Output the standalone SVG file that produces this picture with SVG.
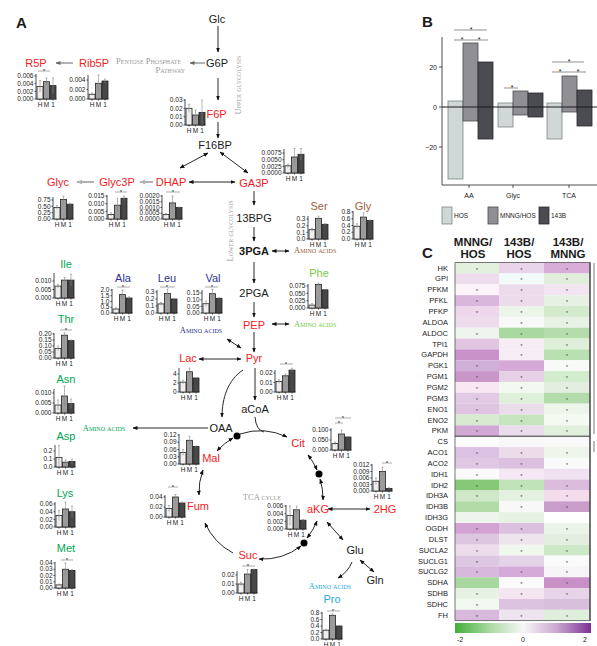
<svg xmlns="http://www.w3.org/2000/svg" width="597" height="646" viewBox="0 0 597 646">
<style>
text{font-family:"Liberation Sans",Arial,sans-serif;fill:#1a1a1a}
.pl{font-size:15px;font-weight:bold}
.m{font-size:11px;text-anchor:middle}
.b{font-weight:bold}
.red{fill:#ee1c25}
.grn{fill:#00a651}
.blu{fill:#2e3192}
.brn{fill:#a0603a}
.lg{fill:#7ac943}
.cy{fill:#27aae1}
.sc{font-family:"Liberation Serif","Times New Roman",serif;font-variant:small-caps;font-size:8.5px}
.gy{fill:#9a9a9a}
.tk{font-size:6.5px;text-anchor:end}
.hl{font-size:6.5px;text-anchor:middle}
.st{font-size:6px;text-anchor:middle}
.ax{stroke:#222;stroke-width:0.8;fill:none}
.bh{fill:#eeeeee;stroke:#222;stroke-width:0.8}
.bm{fill:#9b9b9b;stroke:#222;stroke-width:0.8}
.b1{fill:#474747;stroke:#222;stroke-width:0.8}
.eb{stroke:#888;stroke-width:0.6;fill:none}
.sg{stroke:#888;stroke-width:0.7}
.c{stroke:#111;stroke-width:0.9;fill:none}
.cg{stroke:#b0b0b0;stroke-width:2;fill:none}
.cd{stroke:#666;stroke-width:1;fill:none}
.rl{font-size:7.5px;text-anchor:end}
.hs{font-size:6px;text-anchor:middle;fill:#555}
.bt{font-size:7px}
.hd{font-size:11.5px;font-weight:bold;text-anchor:middle}
.bb{stroke-width:0.8}
</style>
<defs>
<marker id="a" viewBox="0 0 10 10" refX="9" refY="5" markerWidth="5" markerHeight="5" markerUnits="userSpaceOnUse" orient="auto-start-reverse"><path d="M0,1L10,5L0,9z" fill="#111"/></marker>
<marker id="ag" viewBox="0 0 10 10" refX="9" refY="5" markerWidth="6" markerHeight="6" markerUnits="userSpaceOnUse" orient="auto"><path d="M0,1L10,5L0,9z" fill="#b0b0b0"/></marker>
<marker id="ad" viewBox="0 0 10 10" refX="9" refY="5" markerWidth="5" markerHeight="5" markerUnits="userSpaceOnUse" orient="auto"><path d="M0,1L10,5L0,9z" fill="#666"/></marker>
<g id="hm"><path class="ax" d="M4,0V1.5M10.5,0V1.5M17,0V1.5"/><text class="hl" x="4" y="7.8">H</text><text class="hl" x="10.5" y="7.8">M</text><text class="hl" x="17" y="7.8">1</text></g>
<linearGradient id="cbar" x1="0" x2="1" y1="0" y2="0"><stop offset="0" stop-color="#3fae3a"/><stop offset="0.25" stop-color="#a8d9a0"/><stop offset="0.5" stop-color="#f7f7f7"/><stop offset="0.75" stop-color="#caa6d0"/><stop offset="1" stop-color="#7b3294"/></linearGradient>
</defs>
<rect width="597" height="646" fill="#fff"/>

<text class="pl" x="16" y="28">A</text>

<g id="connectors">
<path class="c" d="M218,26V52" marker-end="url(#a)"/>
<path class="c" d="M218,78V100" marker-end="url(#a)"/>
<path class="cd" d="M205,63H190" marker-end="url(#ad)"/>
<path class="cd" d="M73,63H56" marker-end="url(#ad)"/>
<path class="c" d="M218,122V138" marker-end="url(#a)"/>
<path class="c" d="M208,153L180,168" marker-start="url(#a)" marker-end="url(#a)"/>
<path class="c" d="M220,152L248,173" marker-start="url(#a)" marker-end="url(#a)"/>
<path class="c" d="M189,182H235" marker-start="url(#a)" marker-end="url(#a)"/>
<path class="cg" d="M153,182H140" marker-end="url(#ag)"/>
<path class="cg" d="M94,182H77" marker-end="url(#ag)"/>
<path class="c" d="M254,191V205" marker-end="url(#a)"/>
<path class="c" d="M254,227V241" marker-end="url(#a)"/>
<path class="c" d="M272,251H289" marker-start="url(#a)" marker-end="url(#a)"/>
<path class="c" d="M254,262V283" marker-end="url(#a)"/>
<path class="c" d="M254,302V317" marker-end="url(#a)"/>
<path class="c" d="M272,324H289" marker-start="url(#a)" marker-end="url(#a)"/>
<path class="c" d="M254,332V352" marker-end="url(#a)"/>
<path class="c" d="M227,339L241,348" marker-start="url(#a)" marker-end="url(#a)"/>
<path class="c" d="M199,359H241" marker-start="url(#a)" marker-end="url(#a)"/>
<path class="c" d="M255,368V400" marker-end="url(#a)"/>
<path class="c" d="M243,370C228,380 222,398 222,417" marker-end="url(#a)"/>
<path class="c" d="M208,428H133" marker-end="url(#a)"/>
<path class="c" d="M255,417Q256,430 264,432"/>
<path class="c" d="M240,434A63,63 0 0 1 287,437" marker-end="url(#a)"/>
<path class="c" d="M308,455A63,63 0 0 1 317,470" marker-start="url(#a)" marker-end="url(#a)"/>
<path class="c" d="M320,479A63,63 0 0 1 323,500" marker-start="url(#a)" marker-end="url(#a)"/>
<path class="c" d="M317,521A63,63 0 0 1 307,538" marker-start="url(#a)" marker-end="url(#a)"/>
<path class="c" d="M301,546A63,63 0 0 1 259,559" marker-start="url(#a)" marker-end="url(#a)"/>
<path class="c" d="M233,553A63,63 0 0 1 205,523" marker-end="url(#a)"/>
<path class="c" d="M199,495A63,63 0 0 1 203,470" marker-start="url(#a)" marker-end="url(#a)"/>
<path class="c" d="M217,451A63,63 0 0 1 233,438" marker-start="url(#a)" marker-end="url(#a)"/>
<path class="c" d="M328,509H370" marker-start="url(#a)" marker-end="url(#a)"/>
<path class="c" d="M327,522L343,540" marker-start="url(#a)" marker-end="url(#a)"/>
<path class="c" d="M352,562Q348,572 338,578" marker-end="url(#a)"/>
<path class="c" d="M360,560L374,572" marker-start="url(#a)" marker-end="url(#a)"/>
<circle cx="237" cy="436" r="3.5" fill="#000"/>
<circle cx="319" cy="474" r="3.5" fill="#000"/>
<circle cx="304" cy="543" r="3.5" fill="#000"/>
</g>

<g id="pathway-labels">
<text class="sc gy" x="116" y="64">Pentose Phosphate</text>
<text class="sc gy" x="185" y="73" text-anchor="end">Pathway</text>
<text class="sc gy" transform="translate(241,85) rotate(-90)" text-anchor="middle">Upper glycolysis</text>
<text class="sc gy" transform="translate(233,231) rotate(-90)" text-anchor="middle">Lower glycolysis</text>
<text class="sc gy" x="262" y="500" text-anchor="middle">TCA cycle</text>
<text class="sc brn" x="294" y="253">Amino acids</text>
<text class="sc lg" x="294" y="327">Amino acids</text>
<text class="sc blu" x="201" y="333" text-anchor="middle">Amino acids</text>
<text class="sc grn" x="104" y="431" text-anchor="middle">Amino acids</text>
<text class="sc cy" x="330" y="589" text-anchor="middle">Amino acids</text>
</g>

<g id="Glc"><text class="m" x="217" y="23">Glc</text></g>
<g id="G6P"><text class="m" x="217" y="67">G6P</text></g>
<g id="F16BP"><text class="m" x="215" y="149">F16BP</text></g>
<g id="13BPG"><text class="m" x="254" y="222">13BPG</text></g>
<g id="3PGA"><text class="m b" x="254" y="255">3PGA</text></g>
<g id="2PGA"><text class="m" x="254" y="297">2PGA</text></g>
<g id="PEP"><text class="m red" x="254" y="329">PEP</text></g>
<g id="aCoA"><text class="m" x="255" y="413">aCoA</text></g>
<g id="OAA"><text class="m" x="221" y="432">OAA</text></g>
<g id="Glu"><text class="m" x="355" y="554">Glu</text></g>
<g id="Gln"><text class="m" x="375" y="584">Gln</text></g>

<g id="R5P"><text class="m red" x="36" y="67">R5P</text>
<g transform="translate(36,99)"><path class="ax" d="M0,-25V0H20.5M-1.5,0H0M-1.5,-7.7H0M-1.5,-15.3H0M-1.5,-23H0"/><rect class="bh" x="1" y="-12.6" width="6" height="12.6"/><rect class="bm" x="7.5" y="-17.3" width="6" height="17.3"/><rect class="b1" x="14" y="-13.4" width="6" height="13.4"/><path class="eb" d="M4,-18.4V-6.8M3,-18.4H5M10.5,-21V-13.6M9.5,-21H11.5M17,-21V-5.8M16,-21H18"/><text class="tk" x="-2.5" y="2.2">0.000</text><text class="tk" x="-2.5" y="-5.5">0.002</text><text class="tk" x="-2.5" y="-13.1">0.004</text><text class="tk" x="-2.5" y="-20.8">0.006</text><path class="sg" d="M2,-28H14"/><text class="st" x="8" y="-26">*</text><use href="#hm"/></g></g>

<g id="Rib5P"><text class="m red" x="94" y="67">Rib5P</text>
<g transform="translate(88,99)"><path class="ax" d="M0,-24V0H20.5M-1.5,0H0M-1.5,-9.5H0M-1.5,-19H0"/><rect class="bh" x="1" y="-4.75" width="6" height="4.75"/><rect class="bm" x="7.5" y="-15.7" width="6" height="15.7"/><rect class="b1" x="14" y="-18" width="6" height="18"/><path class="eb" d="M4,-6V-3.5M3,-6H5M10.5,-24V-7.4M9.5,-24H11.5M17,-20V-16M16,-20H18"/><text class="tk" x="-2.5" y="2.2">0.000</text><text class="tk" x="-2.5" y="-7.3">0.002</text><text class="tk" x="-2.5" y="-16.8">0.004</text><use href="#hm"/></g></g>

<g id="F6P"><text class="m red" x="216.5" y="118">F6P</text>
<g transform="translate(185,125)"><path class="ax" d="M0,-26V0H20.5M-1.5,0H0M-1.5,-8.3H0M-1.5,-16.7H0M-1.5,-25H0"/><rect class="bh" x="1" y="-16.7" width="6" height="16.7"/><rect class="bm" x="7.5" y="-10" width="6" height="10"/><rect class="b1" x="14" y="-12.5" width="6" height="12.5"/><path class="eb" d="M4,-20.8V-12.6M3,-20.8H5M10.5,-15V-5M9.5,-15H11.5M17,-25V0M16,-25H18"/><text class="tk" x="-2.5" y="2.2">0.00</text><text class="tk" x="-2.5" y="-6.1">0.01</text><text class="tk" x="-2.5" y="-14.5">0.02</text><text class="tk" x="-2.5" y="-22.8">0.03</text><use href="#hm"/></g></g>

<g id="Glyc"><text class="m red" x="58" y="186">Glyc</text>
<g transform="translate(53,219)"><path class="ax" d="M0,-22V0H20.5M-1.5,0H0M-1.5,-6.3H0M-1.5,-12.7H0M-1.5,-19H0"/><rect class="bh" x="1" y="-11.5" width="6" height="11.5"/><rect class="bm" x="7.5" y="-19.6" width="6" height="19.6"/><rect class="b1" x="14" y="-14.8" width="6" height="14.8"/><path class="eb" d="M4,-13.3V-9.7M3,-13.3H5M10.5,-23V-16.2M9.5,-23H11.5M17,-15.8V-13.8M16,-15.8H18"/><text class="tk" x="-2.5" y="2.2">0.00</text><text class="tk" x="-2.5" y="-4.1">0.25</text><text class="tk" x="-2.5" y="-10.5">0.50</text><text class="tk" x="-2.5" y="-16.8">0.75</text><use href="#hm"/></g></g>

<g id="Glyc3P"><text class="m red" x="117" y="186">Glyc3P</text>
<g transform="translate(107,219)"><path class="ax" d="M0,-24V0H20.5M-1.5,0H0M-1.5,-7.7H0M-1.5,-15.3H0M-1.5,-23H0"/><rect class="bh" x="1" y="-4.6" width="6" height="4.6"/><rect class="bm" x="7.5" y="-13.8" width="6" height="13.8"/><rect class="b1" x="14" y="-20.7" width="6" height="20.7"/><path class="eb" d="M4,-6.1V-3.1M3,-6.1H5M10.5,-20.7V-6.9M9.5,-20.7H11.5M17,-23V-18.4M16,-23H18"/><text class="tk" x="-2.5" y="2.2">0.000</text><text class="tk" x="-2.5" y="-5.5">0.005</text><text class="tk" x="-2.5" y="-13.1">0.010</text><text class="tk" x="-2.5" y="-20.8">0.015</text><path class="sg" d="M8,-27H20"/><text class="st" x="14" y="-25">*</text><use href="#hm"/></g></g>

<g id="DHAP"><text class="m red" x="171" y="186">DHAP</text>
<g transform="translate(162,219)"><path class="ax" d="M0,-24V0H20.5M-1.5,0H0M-1.5,-5.75H0M-1.5,-11.5H0M-1.5,-17.25H0M-1.5,-23H0"/><rect class="bh" x="1" y="-4.6" width="6" height="4.6"/><rect class="bm" x="7.5" y="-16.1" width="6" height="16.1"/><rect class="b1" x="14" y="-11.5" width="6" height="11.5"/><path class="eb" d="M4,-5.7V-3.5M3,-5.7H5M10.5,-23V-9.2M9.5,-23H11.5M17,-12V-11M16,-12H18"/><text class="tk" x="-2.5" y="2.2">0.0000</text><text class="tk" x="-2.5" y="-3.55">0.0005</text><text class="tk" x="-2.5" y="-9.3">0.0010</text><text class="tk" x="-2.5" y="-15.05">0.0015</text><text class="tk" x="-2.5" y="-20.8">0.0020</text><path class="sg" d="M4,-27H18"/><text class="st" x="11" y="-25">*</text><use href="#hm"/></g></g>

<g id="GA3P"><text class="m red" x="254" y="187">GA3P</text>
<g transform="translate(284,173)"><path class="ax" d="M0,-24V0H20.5M-1.5,0H0M-1.5,-6.7H0M-1.5,-13.3H0M-1.5,-20H0"/><rect class="bh" x="1" y="-7.2" width="6" height="7.2"/><rect class="bm" x="7.5" y="-16" width="6" height="16"/><rect class="b1" x="14" y="-18.7" width="6" height="18.7"/><path class="eb" d="M4,-8.8V-5.6M3,-8.8H5M10.5,-24.5V-7.5M9.5,-24.5H11.5M17,-24.5V-12.9M16,-24.5H18"/><text class="tk" x="-2.5" y="2.2">0.0000</text><text class="tk" x="-2.5" y="-4.5">0.0025</text><text class="tk" x="-2.5" y="-11.1">0.0050</text><text class="tk" x="-2.5" y="-17.8">0.0075</text><use href="#hm"/></g></g>

<g id="Ser"><text class="m brn" x="319" y="210">Ser</text>
<g transform="translate(308,239)"><path class="ax" d="M0,-23V0H20.5M-1.5,0H0M-1.5,-6.7H0M-1.5,-13.3H0M-1.5,-20H0"/><rect class="bh" x="1" y="-9.3" width="6" height="9.3"/><rect class="bm" x="7.5" y="-20.7" width="6" height="20.7"/><rect class="b1" x="14" y="-14.7" width="6" height="14.7"/><path class="eb" d="M4,-10.7V-7.9M3,-10.7H5M10.5,-22.7V-18.7M9.5,-22.7H11.5M17,-15.3V-14.1M16,-15.3H18"/><text class="tk" x="-2.5" y="2.2">0.0</text><text class="tk" x="-2.5" y="-4.5">0.1</text><text class="tk" x="-2.5" y="-11.1">0.2</text><text class="tk" x="-2.5" y="-17.8">0.3</text><use href="#hm"/></g></g>

<g id="Gly"><text class="m brn" x="363" y="210">Gly</text>
<g transform="translate(353,239)"><path class="ax" d="M0,-28V0H20.5M-1.5,0H0M-1.5,-6.75H0M-1.5,-13.5H0M-1.5,-20.25H0M-1.5,-27H0"/><rect class="bh" x="1" y="-12.8" width="6" height="12.8"/><rect class="bm" x="7.5" y="-21.9" width="6" height="21.9"/><rect class="b1" x="14" y="-18.6" width="6" height="18.6"/><path class="eb" d="M4,-15.2V-10.4M3,-15.2H5M10.5,-26.3V-17.5M9.5,-26.3H11.5M17,-18.9V-18.3M16,-18.9H18"/><text class="tk" x="-2.5" y="2.2">0.0</text><text class="tk" x="-2.5" y="-4.55">0.2</text><text class="tk" x="-2.5" y="-11.3">0.4</text><text class="tk" x="-2.5" y="-18.05">0.6</text><text class="tk" x="-2.5" y="-24.8">0.8</text><use href="#hm"/></g></g>

<g id="Phe"><text class="m lg" x="319" y="277">Phe</text>
<g transform="translate(308,308)"><path class="ax" d="M0,-24V0H20.5M-1.5,0H0M-1.5,-7.3H0M-1.5,-14.7H0M-1.5,-22H0"/><rect class="bh" x="1" y="-2.9" width="6" height="2.9"/><rect class="bm" x="7.5" y="-23.5" width="6" height="23.5"/><rect class="b1" x="14" y="-18.2" width="6" height="18.2"/><path class="eb" d="M4,-4.4V-1.4M3,-4.4H5M10.5,-25V-22M9.5,-25H11.5M17,-18.5V-17.9M16,-18.5H18"/><text class="tk" x="-2.5" y="2.2">0.000</text><text class="tk" x="-2.5" y="-5.1">0.025</text><text class="tk" x="-2.5" y="-12.5">0.050</text><text class="tk" x="-2.5" y="-19.8">0.075</text><use href="#hm"/></g></g>

<g id="Val"><text class="m blu" x="213" y="282">Val</text>
<g transform="translate(202,313)"><path class="ax" d="M0,-23V0H20.5M-1.5,0H0M-1.5,-6.7H0M-1.5,-13.3H0M-1.5,-20H0"/><rect class="bh" x="1" y="-9.3" width="6" height="9.3"/><rect class="bm" x="7.5" y="-19.3" width="6" height="19.3"/><rect class="b1" x="14" y="-14.7" width="6" height="14.7"/><path class="eb" d="M4,-12V-6.6M3,-12H5M10.5,-24V-14.6M9.5,-24H11.5M17,-15.3V-14.1M16,-15.3H18"/><text class="tk" x="-2.5" y="2.2">0.00</text><text class="tk" x="-2.5" y="-4.5">0.05</text><text class="tk" x="-2.5" y="-11.1">0.10</text><text class="tk" x="-2.5" y="-17.8">0.15</text><path class="sg" d="M3,-26H16"/><text class="st" x="10" y="-24">*</text><use href="#hm"/></g></g>

<g id="Leu"><text class="m blu" x="167" y="282">Leu</text>
<g transform="translate(157,313)"><path class="ax" d="M0,-23V0H20.5M-1.5,0H0M-1.5,-7H0M-1.5,-14H0M-1.5,-21H0"/><rect class="bh" x="1" y="-9.1" width="6" height="9.1"/><rect class="bm" x="7.5" y="-19.6" width="6" height="19.6"/><rect class="b1" x="14" y="-14" width="6" height="14"/><path class="eb" d="M4,-10.5V-7.7M3,-10.5H5M10.5,-23.8V-15.4M9.5,-23.8H11.5M17,-14.7V-13.3M16,-14.7H18"/><text class="tk" x="-2.5" y="2.2">0.0</text><text class="tk" x="-2.5" y="-4.8">0.1</text><text class="tk" x="-2.5" y="-11.8">0.2</text><text class="tk" x="-2.5" y="-18.8">0.3</text><path class="sg" d="M3,-26H18"/><text class="st" x="10" y="-24">*</text><use href="#hm"/></g></g>

<g id="Ala"><text class="m blu" x="123" y="282">Ala</text>
<g transform="translate(112,313)"><path class="ax" d="M0,-24V0H20.5M-1.5,0H0M-1.5,-5.75H0M-1.5,-11.5H0M-1.5,-17.25H0M-1.5,-23H0"/><rect class="bh" x="1" y="-4" width="6" height="4"/><rect class="bm" x="7.5" y="-18.4" width="6" height="18.4"/><rect class="b1" x="14" y="-15" width="6" height="15"/><path class="eb" d="M4,-5.2V-2.8M3,-5.2H5M10.5,-23V-13.8M9.5,-23H11.5M17,-16.1V-13.9M16,-16.1H18"/><text class="tk" x="-2.5" y="2.2">0.0</text><text class="tk" x="-2.5" y="-3.55">0.5</text><text class="tk" x="-2.5" y="-9.3">1.0</text><text class="tk" x="-2.5" y="-15.05">1.5</text><text class="tk" x="-2.5" y="-20.8">2.0</text><path class="sg" d="M5,-26H18"/><text class="st" x="11" y="-24">*</text><use href="#hm"/></g></g>

<g id="Ile"><text class="m grn" x="66" y="268">Ile</text>
<g transform="translate(54,298)"><path class="ax" d="M0,-25V0H20.5M-1.5,0H0M-1.5,-8.5H0M-1.5,-17H0"/><rect class="bh" x="1" y="-11.9" width="6" height="11.9"/><rect class="bm" x="7.5" y="-17.9" width="6" height="17.9"/><rect class="b1" x="14" y="-17.9" width="6" height="17.9"/><path class="eb" d="M4,-13.6V-10.2M3,-13.6H5M10.5,-20.4V-15.4M9.5,-20.4H11.5M17,-23.8V-12M16,-23.8H18"/><text class="tk" x="-2.5" y="2.2">0.000</text><text class="tk" x="-2.5" y="-6.3">0.005</text><text class="tk" x="-2.5" y="-14.8">0.010</text><use href="#hm"/></g></g>

<g id="Thr"><text class="m grn" x="66" y="323">Thr</text>
<g transform="translate(54,358)"><path class="ax" d="M0,-25V0H20.5M-1.5,0H0M-1.5,-6H0M-1.5,-12H0M-1.5,-18H0M-1.5,-24H0"/><rect class="bh" x="1" y="-9.6" width="6" height="9.6"/><rect class="bm" x="7.5" y="-22.8" width="6" height="22.8"/><rect class="b1" x="14" y="-17.4" width="6" height="17.4"/><path class="eb" d="M4,-12V-7.2M3,-12H5M10.5,-25.2V-20.4M9.5,-25.2H11.5M17,-18V-16.8M16,-18H18"/><text class="tk" x="-2.5" y="2.2">0.00</text><text class="tk" x="-2.5" y="-3.8">0.05</text><text class="tk" x="-2.5" y="-9.8">0.10</text><text class="tk" x="-2.5" y="-15.8">0.15</text><text class="tk" x="-2.5" y="-21.8">0.20</text><path class="sg" d="M6,-28H18"/><text class="st" x="12" y="-26">*</text><use href="#hm"/></g></g>

<g id="Asn"><text class="m grn" x="66" y="383">Asn</text>
<g transform="translate(54,413)"><path class="ax" d="M0,-24V0H20.5M-1.5,0H0M-1.5,-10H0M-1.5,-20H0"/><rect class="bh" x="1" y="-8" width="6" height="8"/><rect class="bm" x="7.5" y="-17" width="6" height="17"/><rect class="b1" x="14" y="-9.4" width="6" height="9.4"/><path class="eb" d="M4,-13V-3M3,-13H5M10.5,-27V-7M9.5,-27H11.5M17,-14V-4.8M16,-14H18"/><text class="tk" x="-2.5" y="2.2">0.000</text><text class="tk" x="-2.5" y="-7.8">0.005</text><text class="tk" x="-2.5" y="-17.8">0.010</text><use href="#hm"/></g></g>

<g id="Asp"><text class="m grn" x="66" y="440">Asp</text>
<g transform="translate(55,467)"><path class="ax" d="M0,-22V0H20.5M-1.5,0H0M-1.5,-8H0M-1.5,-16H0"/><rect class="bh" x="1" y="-9.6" width="6" height="9.6"/><rect class="bm" x="7.5" y="-4.8" width="6" height="4.8"/><rect class="b1" x="14" y="-5.6" width="6" height="5.6"/><path class="eb" d="M4,-21.6V0M3,-21.6H5M10.5,-7.2V-2.4M9.5,-7.2H11.5M17,-8V-3.2M16,-8H18"/><text class="tk" x="-2.5" y="2.2">0.0</text><text class="tk" x="-2.5" y="-5.8">0.1</text><text class="tk" x="-2.5" y="-13.8">0.2</text><use href="#hm"/></g></g>

<g id="Lys"><text class="m grn" x="65" y="497">Lys</text>
<g transform="translate(55,527)"><path class="ax" d="M0,-25V0H20.5M-1.5,0H0M-1.5,-7.7H0M-1.5,-15.3H0M-1.5,-23H0"/><rect class="bh" x="1" y="-11.5" width="6" height="11.5"/><rect class="bm" x="7.5" y="-18" width="6" height="18"/><rect class="b1" x="14" y="-15.3" width="6" height="15.3"/><path class="eb" d="M4,-16.5V-6.5M3,-16.5H5M10.5,-25V-11M9.5,-25H11.5M17,-21V-9.6M16,-21H18"/><text class="tk" x="-2.5" y="2.2">0.00</text><text class="tk" x="-2.5" y="-5.5">0.02</text><text class="tk" x="-2.5" y="-13.1">0.04</text><text class="tk" x="-2.5" y="-20.8">0.06</text><use href="#hm"/></g></g>

<g id="Met"><text class="m grn" x="66" y="552">Met</text>
<g transform="translate(55,588)"><path class="ax" d="M0,-26V0H20.5M-1.5,0H0M-1.5,-6.25H0M-1.5,-12.5H0M-1.5,-18.75H0M-1.5,-25H0"/><rect class="bh" x="1" y="-3.1" width="6" height="3.1"/><rect class="bm" x="7.5" y="-18.75" width="6" height="18.75"/><rect class="b1" x="14" y="-17.5" width="6" height="17.5"/><path class="eb" d="M4,-3.8V-2.4M3,-3.8H5M10.5,-25V-12.5M9.5,-25H11.5M17,-18.5V-16.5M16,-18.5H18"/><text class="tk" x="-2.5" y="2.2">0.00</text><text class="tk" x="-2.5" y="-4.05">0.01</text><text class="tk" x="-2.5" y="-10.3">0.02</text><text class="tk" x="-2.5" y="-16.55">0.03</text><text class="tk" x="-2.5" y="-22.8">0.04</text><path class="sg" d="M6,-28H18"/><text class="st" x="12" y="-26">*</text><use href="#hm"/></g></g>

<g id="Lac"><text class="m red" x="188" y="362">Lac</text>
<g transform="translate(179,392)"><path class="ax" d="M0,-24V0H20.5M-1.5,0H0M-1.5,-9H0M-1.5,-18H0"/><rect class="bh" x="1" y="-9.9" width="6" height="9.9"/><rect class="bm" x="7.5" y="-20.25" width="6" height="20.25"/><rect class="b1" x="14" y="-14" width="6" height="14"/><path class="eb" d="M4,-11.7V-8.1M3,-11.7H5M10.5,-23.9V-16.6M9.5,-23.9H11.5M17,-14.2V-13.8M16,-14.2H18"/><text class="tk" x="-2.5" y="2.2">0</text><text class="tk" x="-2.5" y="-6.8">2</text><text class="tk" x="-2.5" y="-15.8">4</text><use href="#hm"/></g></g>

<g id="Pyr"><text class="m red" x="254" y="362">Pyr</text>
<g transform="translate(275,392)"><path class="ax" d="M0,-22V0H20.5M-1.5,0H0M-1.5,-9.5H0M-1.5,-19H0"/><rect class="bh" x="1" y="-10.5" width="6" height="10.5"/><rect class="bm" x="7.5" y="-16.2" width="6" height="16.2"/><rect class="b1" x="14" y="-21.9" width="6" height="21.9"/><path class="eb" d="M4,-12.4V-8.6M3,-12.4H5M10.5,-18V-14.4M9.5,-18H11.5M17,-23.75V-20M16,-23.75H18"/><text class="tk" x="-2.5" y="2.2">0.00</text><text class="tk" x="-2.5" y="-7.3">0.01</text><text class="tk" x="-2.5" y="-16.8">0.02</text><path class="sg" d="M5,-28H18"/><text class="st" x="11" y="-26">*</text><use href="#hm"/></g></g>

<g id="Cit"><text class="m red" x="298" y="447">Cit</text>
<g transform="translate(331,450)"><path class="ax" d="M0,-22V0H20.5M-1.5,0H0M-1.5,-10H0M-1.5,-20H0"/><rect class="bh" x="1" y="-6.4" width="6" height="6.4"/><rect class="bm" x="7.5" y="-16" width="6" height="16"/><rect class="b1" x="14" y="-13" width="6" height="13"/><path class="eb" d="M4,-8V-4.8M3,-8H5M10.5,-20V-12M9.5,-20H11.5M17,-13.2V-12.8M16,-13.2H18"/><text class="tk" x="-2.5" y="2.2">0.000</text><text class="tk" x="-2.5" y="-7.8">0.050</text><text class="tk" x="-2.5" y="-17.8">0.100</text><path class="sg" d="M4,-27H12M4,-32H20"/><text class="st" x="8" y="-25">*</text><text class="st" x="12" y="-30">*</text><use href="#hm"/></g></g>

<g id="2HG"><text class="m red" x="385" y="513">2HG</text>
<g transform="translate(372,491)"><path class="ax" d="M0,-27V0H20.5M-1.5,0H0M-1.5,-6.5H0M-1.5,-13H0M-1.5,-19.5H0M-1.5,-26H0"/><rect class="bh" x="1" y="-9.75" width="6" height="9.75"/><rect class="bm" x="7.5" y="-19.5" width="6" height="19.5"/><rect class="b1" x="14" y="-2.6" width="6" height="2.6"/><path class="eb" d="M4,-13V-6.5M3,-13H5M10.5,-23.8V-15.2M9.5,-23.8H11.5M17,-3.3V-1.9M16,-3.3H18"/><text class="tk" x="-2.5" y="2.2">0.000</text><text class="tk" x="-2.5" y="-4.3">0.003</text><text class="tk" x="-2.5" y="-10.8">0.006</text><text class="tk" x="-2.5" y="-17.3">0.009</text><text class="tk" x="-2.5" y="-23.8">0.012</text><path class="sg" d="M10,-28H20"/><text class="st" x="15" y="-26">*</text><use href="#hm"/></g></g>

<g id="aKG"><text class="m red" x="318" y="513">aKG</text>
<g transform="translate(286,529)"><path class="ax" d="M0,-24V0H20.5M-1.5,0H0M-1.5,-7.7H0M-1.5,-15.3H0M-1.5,-23H0"/><rect class="bh" x="1" y="-13.4" width="6" height="13.4"/><rect class="bm" x="7.5" y="-19.2" width="6" height="19.2"/><rect class="b1" x="14" y="-8.8" width="6" height="8.8"/><path class="eb" d="M4,-23V-3.8M3,-23H5M10.5,-23V-15.4M9.5,-23H11.5M17,-9.6V-8M16,-9.6H18"/><text class="tk" x="-2.5" y="2.2">0.000</text><text class="tk" x="-2.5" y="-5.5">0.002</text><text class="tk" x="-2.5" y="-13.1">0.004</text><text class="tk" x="-2.5" y="-20.8">0.006</text><use href="#hm"/></g></g>

<g id="Suc"><text class="m red" x="248" y="559">Suc</text>
<g transform="translate(237,593)"><path class="ax" d="M0,-22V0H20.5M-1.5,0H0M-1.5,-9H0M-1.5,-18H0"/><rect class="bh" x="1" y="-9" width="6" height="9"/><rect class="bm" x="7.5" y="-18.9" width="6" height="18.9"/><rect class="b1" x="14" y="-23.4" width="6" height="23.4"/><path class="eb" d="M4,-10.8V-7.2M3,-10.8H5M10.5,-23.4V-14.4M9.5,-23.4H11.5M17,-23.8V-23M16,-23.8H18"/><text class="tk" x="-2.5" y="2.2">0.00</text><text class="tk" x="-2.5" y="-6.8">0.01</text><text class="tk" x="-2.5" y="-15.8">0.02</text><path class="sg" d="M5,-27H18"/><text class="st" x="11" y="-25">*</text><use href="#hm"/></g></g>

<g id="Fum"><text class="m red" x="198" y="510">Fum</text>
<g transform="translate(165,517)"><path class="ax" d="M0,-22V0H20.5M-1.5,0H0M-1.5,-10H0M-1.5,-20H0"/><rect class="bh" x="1" y="-8.5" width="6" height="8.5"/><rect class="bm" x="7.5" y="-20" width="6" height="20"/><rect class="b1" x="14" y="-14" width="6" height="14"/><path class="eb" d="M4,-11.5V-5.5M3,-11.5H5M10.5,-22.5V-17.5M9.5,-22.5H11.5M17,-15V-13M16,-15H18"/><text class="tk" x="-2.5" y="2.2">0.00</text><text class="tk" x="-2.5" y="-7.8">0.02</text><text class="tk" x="-2.5" y="-17.8">0.04</text><path class="sg" d="M3,-30H13"/><text class="st" x="8" y="-28">*</text><use href="#hm"/></g></g>

<g id="Mal"><text class="m red" x="211" y="462">Mal</text>
<g transform="translate(179,464)"><path class="ax" d="M0,-30V0H20.5M-1.5,0H0M-1.5,-7.25H0M-1.5,-14.5H0M-1.5,-21.75H0M-1.5,-29H0"/><rect class="bh" x="1" y="-11.6" width="6" height="11.6"/><rect class="bm" x="7.5" y="-23.7" width="6" height="23.7"/><rect class="b1" x="14" y="-17.6" width="6" height="17.6"/><path class="eb" d="M4,-14.5V-8.7M3,-14.5H5M10.5,-27.8V-19.6M9.5,-27.8H11.5M17,-17.9V-17.3M16,-17.9H18"/><text class="tk" x="-2.5" y="2.2">0.00</text><text class="tk" x="-2.5" y="-5.05">0.03</text><text class="tk" x="-2.5" y="-12.3">0.06</text><text class="tk" x="-2.5" y="-19.55">0.09</text><text class="tk" x="-2.5" y="-26.8">0.12</text><use href="#hm"/></g></g>

<g id="Pro"><text class="m cy" x="332" y="603">Pro</text>
<g transform="translate(322,639)"><path class="ax" d="M0,-27V0H20.5M-1.5,0H0M-1.5,-6.5H0M-1.5,-13H0M-1.5,-19.5H0M-1.5,-26H0"/><rect class="bh" x="1" y="-8.8" width="6" height="8.8"/><rect class="bm" x="7.5" y="-23.7" width="6" height="23.7"/><rect class="b1" x="14" y="-13" width="6" height="13"/><path class="eb" d="M4,-9.8V-7.8M3,-9.8H5M10.5,-25.3V-22.1M9.5,-25.3H11.5M17,-13.3V-12.7M16,-13.3H18"/><text class="tk" x="-2.5" y="2.2">0.0</text><text class="tk" x="-2.5" y="-4.3">0.2</text><text class="tk" x="-2.5" y="-10.8">0.4</text><text class="tk" x="-2.5" y="-17.3">0.6</text><text class="tk" x="-2.5" y="-23.8">0.8</text><path class="sg" d="M5,-28H18"/><text class="st" x="11" y="-26">*</text><use href="#hm"/></g></g>

<g id="panelB">
<text class="pl" x="422" y="27">B</text>
<rect class="bb" x="448" y="101" width="15" height="78" fill="#cfd8d6" stroke="#7d8584"/>
<rect class="bb" x="463" y="43" width="15" height="78" fill="#8f8f94" stroke="#4a4a4f"/>
<rect class="bb" x="478" y="62" width="15" height="77" fill="#4b4b52" stroke="#2a2a2e"/>
<rect class="bb" x="498" y="103" width="15" height="24" fill="#cfd8d6" stroke="#7d8584"/>
<rect class="bb" x="513" y="91" width="15" height="24" fill="#8f8f94" stroke="#4a4a4f"/>
<rect class="bb" x="528" y="93" width="15" height="24" fill="#4b4b52" stroke="#2a2a2e"/>
<rect class="bb" x="547" y="103" width="15" height="36" fill="#cfd8d6" stroke="#7d8584"/>
<rect class="bb" x="562" y="76" width="15" height="36" fill="#8f8f94" stroke="#4a4a4f"/>
<rect class="bb" x="577" y="90" width="15" height="36" fill="#4b4b52" stroke="#2a2a2e"/>
<path d="M442,107H597" stroke="#1a1a1a" stroke-width="1"/>
<path d="M442,37V185H597M439,67H442M439,107H442M439,147H442M469,185V188M513,185V188M569,185V188" stroke="#222" stroke-width="0.8" fill="none"/>
<text class="bt" x="437" y="69.5" text-anchor="end">20</text>
<text class="bt" x="437" y="109.5" text-anchor="end">0</text>
<text class="bt" x="437" y="149.5" text-anchor="end">−20</text>
<text class="bt" x="469" y="198" text-anchor="middle">AA</text>
<text class="bt" x="513" y="198" text-anchor="middle">Glyc</text>
<text class="bt" x="569" y="198" text-anchor="middle">TCA</text>
<path d="M454,40H471M471,40H488M454,30H487M504,88H518M552,72H568M568,72H586M552,62H584" stroke="#777" stroke-width="0.8"/>
<text class="st" style="font-size:7px" x="462" y="42">*</text>
<text class="st" style="font-size:7px" x="479" y="42">*</text>
<text class="st" style="font-size:7px" x="471" y="32">*</text>
<text class="st" style="font-size:7px" x="512" y="90">*</text>
<text class="st" style="font-size:7px" x="560" y="74">*</text>
<text class="st" style="font-size:7px" x="578" y="74">*</text>
<text class="st" style="font-size:7px" x="569" y="64">*</text>
<rect x="442" y="207" width="10" height="17" fill="#cfd8d6" stroke="#7d8584" stroke-width="0.8"/>
<text class="bt" style="font-size:6.5px" x="454" y="218">HOS</text>
<rect x="488" y="207" width="10" height="17" fill="#8f8f94" stroke="#4a4a4f" stroke-width="0.8"/>
<text class="bt" style="font-size:6.5px" x="500" y="218">MNNG/HOS</text>
<rect x="539" y="207" width="10" height="17" fill="#4b4b52" stroke="#2a2a2e" stroke-width="0.8"/>
<text class="bt" style="font-size:6.5px" x="551" y="218">143B</text>
</g>

<g id="panelC">
<text class="pl" x="422" y="258">C</text>
<text class="hd" x="473" y="246">MNNG/</text><text class="hd" x="473" y="258">HOS</text>
<text class="hd" x="519" y="246">143B/</text><text class="hd" x="519" y="258">HOS</text>
<text class="hd" x="568" y="246">143B/</text><text class="hd" x="568" y="258">MNNG</text>

<g id="r-HK" transform="translate(0,262.6)"><rect x="455" width="44" height="10.9" fill="#e2f0dd"/><rect x="499" width="45" height="10.9" fill="#e9d5ea"/><rect x="544" width="46" height="10.9" fill="#d8aed8"/><text class="rl" x="448" y="8">HK</text><text class="hs" x="477" y="9">*</text><text class="hs" x="521.5" y="9">*</text><text class="hs" x="567" y="9">*</text></g>
<g id="r-GPI" transform="translate(0,273.45)"><rect x="455" width="44" height="10.9" fill="#ecdcec"/><rect x="499" width="45" height="10.9" fill="#f3fbfa"/><rect x="544" width="46" height="10.9" fill="#e0eedb"/><text class="rl" x="448" y="8">GPI</text><text class="hs" x="521.5" y="9">*</text><text class="hs" x="567" y="9">*</text></g>
<g id="r-PFKM" transform="translate(0,284.3)"><rect x="455" width="44" height="10.9" fill="#fbf3f9"/><rect x="499" width="45" height="10.9" fill="#ecdceb"/><rect x="544" width="46" height="10.9" fill="#f3e4f1"/><text class="rl" x="448" y="8">PFKM</text><text class="hs" x="477" y="9">*</text><text class="hs" x="521.5" y="9">*</text><text class="hs" x="567" y="9">*</text></g>
<g id="r-PFKL" transform="translate(0,295.15)"><rect x="455" width="44" height="10.9" fill="#d9b6dc"/><rect x="499" width="45" height="10.9" fill="#ecdceb"/><rect x="544" width="46" height="10.9" fill="#e7f1e3"/><text class="rl" x="448" y="8">PFKL</text><text class="hs" x="477" y="9">*</text><text class="hs" x="521.5" y="9">*</text><text class="hs" x="567" y="9">*</text></g>
<g id="r-PFKP" transform="translate(0,306)"><rect x="455" width="44" height="10.9" fill="#eed6ec"/><rect x="499" width="45" height="10.9" fill="#edf5ea"/><rect x="544" width="46" height="10.9" fill="#d3eacd"/><text class="rl" x="448" y="8">PFKP</text><text class="hs" x="477" y="9">*</text><text class="hs" x="521.5" y="9">*</text><text class="hs" x="567" y="9">*</text></g>
<g id="r-ALDOA" transform="translate(0,316.85)"><rect x="455" width="44" height="10.9" fill="#ecdcec"/><rect x="499" width="45" height="10.9" fill="#f8f8f8"/><rect x="544" width="46" height="10.9" fill="#e8f2e4"/><text class="rl" x="448" y="8">ALDOA</text><text class="hs" x="521.5" y="9">*</text><text class="hs" x="567" y="9">*</text></g>
<g id="r-ALDOC" transform="translate(0,327.7)"><rect x="455" width="44" height="10.9" fill="#eef5ee"/><rect x="499" width="45" height="10.9" fill="#a9d8a0"/><rect x="544" width="46" height="10.9" fill="#b5ddac"/><text class="rl" x="448" y="8">ALDOC</text><text class="hs" x="477" y="9">*</text><text class="hs" x="521.5" y="9">*</text><text class="hs" x="567" y="9">*</text></g>
<g id="r-TPI1" transform="translate(0,338.55)"><rect x="455" width="44" height="10.9" fill="#e0c6e0"/><rect x="499" width="45" height="10.9" fill="#f6ecf4"/><rect x="544" width="46" height="10.9" fill="#ddefd8"/><text class="rl" x="448" y="8">TPI1</text><text class="hs" x="521.5" y="9">*</text><text class="hs" x="567" y="9">*</text></g>
<g id="r-GAPDH" transform="translate(0,349.4)"><rect x="455" width="44" height="10.9" fill="#c992c9"/><rect x="499" width="45" height="10.9" fill="#f6ecf4"/><rect x="544" width="46" height="10.9" fill="#b8e0b0"/><text class="rl" x="448" y="8">GAPDH</text><text class="hs" x="521.5" y="9">*</text><text class="hs" x="567" y="9">*</text></g>
<g id="r-PGK1" transform="translate(0,360.25)"><rect x="455" width="44" height="10.9" fill="#d0b0d8"/><rect x="499" width="45" height="10.9" fill="#d6aad6"/><rect x="544" width="46" height="10.9" fill="#f8faf8"/><text class="rl" x="448" y="8">PGK1</text><text class="hs" x="477" y="9">*</text><text class="hs" x="567" y="9">*</text></g>
<g id="r-PGM1" transform="translate(0,371.1)"><rect x="455" width="44" height="10.9" fill="#c996c9"/><rect x="499" width="45" height="10.9" fill="#e6d0e6"/><rect x="544" width="46" height="10.9" fill="#d3ecce"/><text class="rl" x="448" y="8">PGM1</text><text class="hs" x="477" y="9">*</text><text class="hs" x="521.5" y="9">*</text><text class="hs" x="567" y="9">*</text></g>
<g id="r-PGM2" transform="translate(0,381.95)"><rect x="455" width="44" height="10.9" fill="#f8e8f4"/><rect x="499" width="45" height="10.9" fill="#f2f9f0"/><rect x="544" width="46" height="10.9" fill="#e4eee0"/><text class="rl" x="448" y="8">PGM2</text><text class="hs" x="477" y="9">*</text><text class="hs" x="521.5" y="9">*</text><text class="hs" x="567" y="9">*</text></g>
<g id="r-PGM3" transform="translate(0,392.8)"><rect x="455" width="44" height="10.9" fill="#e2cae4"/><rect x="499" width="45" height="10.9" fill="#dff0da"/><rect x="544" width="46" height="10.9" fill="#b4dcaa"/><text class="rl" x="448" y="8">PGM3</text><text class="hs" x="477" y="9">*</text><text class="hs" x="521.5" y="9">*</text><text class="hs" x="567" y="9">*</text></g>
<g id="r-ENO1" transform="translate(0,403.65)"><rect x="455" width="44" height="10.9" fill="#dfc4e2"/><rect x="499" width="45" height="10.9" fill="#eadcea"/><rect x="544" width="46" height="10.9" fill="#eef6ec"/><text class="rl" x="448" y="8">ENO1</text><text class="hs" x="477" y="9">*</text><text class="hs" x="521.5" y="9">*</text><text class="hs" x="567" y="9">*</text></g>
<g id="r-ENO2" transform="translate(0,414.5)"><rect x="455" width="44" height="10.9" fill="#d6ebcf"/><rect x="499" width="45" height="10.9" fill="#c6e4be"/><rect x="544" width="46" height="10.9" fill="#f4faf2"/><text class="rl" x="448" y="8">ENO2</text><text class="hs" x="477" y="9">*</text><text class="hs" x="521.5" y="9">*</text><text class="hs" x="567" y="9">*</text></g>
<g id="r-PKM" transform="translate(0,425.35)"><rect x="455" width="44" height="10.9" fill="#d2a8d4"/><rect x="499" width="45" height="10.9" fill="#eadcea"/><rect x="544" width="46" height="10.9" fill="#e0f0dc"/><text class="rl" x="448" y="8">PKM</text><text class="hs" x="477" y="9">*</text><text class="hs" x="521.5" y="9">*</text><text class="hs" x="567" y="9">*</text></g>
<g id="r-CS" transform="translate(0,436.2)"><rect x="455" width="44" height="10.9" fill="#fbfbfb"/><rect x="499" width="45" height="10.9" fill="#f7f7f7"/><rect x="544" width="46" height="10.9" fill="#f9f9f9"/><text class="rl" x="448" y="8">CS</text></g>
<g id="r-ACO1" transform="translate(0,447.05)"><rect x="455" width="44" height="10.9" fill="#dcc2e2"/><rect x="499" width="45" height="10.9" fill="#ecdcea"/><rect x="544" width="46" height="10.9" fill="#eef6ec"/><text class="rl" x="448" y="8">ACO1</text><text class="hs" x="477" y="9">*</text><text class="hs" x="521.5" y="9">*</text><text class="hs" x="567" y="9">*</text></g>
<g id="r-ACO2" transform="translate(0,457.9)"><rect x="455" width="44" height="10.9" fill="#e0c8e4"/><rect x="499" width="45" height="10.9" fill="#dcc0e0"/><rect x="544" width="46" height="10.9" fill="#fafafa"/><text class="rl" x="448" y="8">ACO2</text><text class="hs" x="477" y="9">*</text><text class="hs" x="521.5" y="9">*</text><text class="hs" x="567" y="9">*</text></g>
<g id="r-IDH1" transform="translate(0,468.75)"><rect x="455" width="44" height="10.9" fill="#fafafa"/><rect x="499" width="45" height="10.9" fill="#f5e7f3"/><rect x="544" width="46" height="10.9" fill="#efe1ef"/><text class="rl" x="448" y="8">IDH1</text><text class="hs" x="477" y="9">*</text><text class="hs" x="521.5" y="9">*</text></g>
<g id="r-IDH2" transform="translate(0,479.6)"><rect x="455" width="44" height="10.9" fill="#86c878"/><rect x="499" width="45" height="10.9" fill="#c1e3b9"/><rect x="544" width="46" height="10.9" fill="#dcbcdc"/><text class="rl" x="448" y="8">IDH2</text><text class="hs" x="477" y="9">*</text><text class="hs" x="521.5" y="9">*</text><text class="hs" x="567" y="9">*</text></g>
<g id="r-IDH3A" transform="translate(0,490.45)"><rect x="455" width="44" height="10.9" fill="#cfe8c8"/><rect x="499" width="45" height="10.9" fill="#e4f0e0"/><rect x="544" width="46" height="10.9" fill="#f4dcec"/><text class="rl" x="448" y="8">IDH3A</text><text class="hs" x="477" y="9">*</text><text class="hs" x="521.5" y="9">*</text><text class="hs" x="567" y="9">*</text></g>
<g id="r-IDH3B" transform="translate(0,501.3)"><rect x="455" width="44" height="10.9" fill="#b3dba8"/><rect x="499" width="45" height="10.9" fill="#f8f8f8"/><rect x="544" width="46" height="10.9" fill="#c99dca"/><text class="rl" x="448" y="8">IDH3B</text><text class="hs" x="521.5" y="9">*</text><text class="hs" x="567" y="9">*</text></g>
<g id="r-IDH3G" transform="translate(0,512.15)"><rect x="455" width="44" height="10.9" fill="#eef5ec"/><rect x="499" width="45" height="10.9" fill="#e8f2e4"/><rect x="544" width="46" height="10.9" fill="#ffffff"/><text class="rl" x="448" y="8">IDH3G</text></g>
<g id="r-OGDH" transform="translate(0,523)"><rect x="455" width="44" height="10.9" fill="#d2a2d2"/><rect x="499" width="45" height="10.9" fill="#dcc0e0"/><rect x="544" width="46" height="10.9" fill="#ebf4e8"/><text class="rl" x="448" y="8">OGDH</text><text class="hs" x="477" y="9">*</text><text class="hs" x="521.5" y="9">*</text><text class="hs" x="567" y="9">*</text></g>
<g id="r-DLST" transform="translate(0,533.85)"><rect x="455" width="44" height="10.9" fill="#dcc6e0"/><rect x="499" width="45" height="10.9" fill="#eee4ee"/><rect x="544" width="46" height="10.9" fill="#e4eee0"/><text class="rl" x="448" y="8">DLST</text><text class="hs" x="477" y="9">*</text><text class="hs" x="521.5" y="9">*</text><text class="hs" x="567" y="9">*</text></g>
<g id="r-SUCLA2" transform="translate(0,544.7)"><rect x="455" width="44" height="10.9" fill="#ecdcec"/><rect x="499" width="45" height="10.9" fill="#eef8ec"/><rect x="544" width="46" height="10.9" fill="#cce8c6"/><text class="rl" x="448" y="8">SUCLA2</text><text class="hs" x="477" y="9">*</text><text class="hs" x="521.5" y="9">*</text><text class="hs" x="567" y="9">*</text></g>
<g id="r-SUCLG1" transform="translate(0,555.55)"><rect x="455" width="44" height="10.9" fill="#dcc6e2"/><rect x="499" width="45" height="10.9" fill="#e4d2e8"/><rect x="544" width="46" height="10.9" fill="#fafafa"/><text class="rl" x="448" y="8">SUCLG1</text><text class="hs" x="477" y="9">*</text><text class="hs" x="567" y="9">*</text></g>
<g id="r-SUCLG2" transform="translate(0,566.4)"><rect x="455" width="44" height="10.9" fill="#d8b8dc"/><rect x="499" width="45" height="10.9" fill="#d4aad8"/><rect x="544" width="46" height="10.9" fill="#f6f4f6"/><text class="rl" x="448" y="8">SUCLG2</text><text class="hs" x="477" y="9">*</text><text class="hs" x="521.5" y="9">*</text><text class="hs" x="567" y="9">*</text></g>
<g id="r-SDHA" transform="translate(0,577.25)"><rect x="455" width="44" height="10.9" fill="#a8d8a0"/><rect x="499" width="45" height="10.9" fill="#fafafa"/><rect x="544" width="46" height="10.9" fill="#c990c8"/><text class="rl" x="448" y="8">SDHA</text><text class="hs" x="521.5" y="9">*</text><text class="hs" x="567" y="9">*</text></g>
<g id="r-SDHB" transform="translate(0,588.1)"><rect x="455" width="44" height="10.9" fill="#e8f2e4"/><rect x="499" width="45" height="10.9" fill="#f4e6f0"/><rect x="544" width="46" height="10.9" fill="#e8d4e8"/><text class="rl" x="448" y="8">SDHB</text><text class="hs" x="477" y="9">*</text><text class="hs" x="521.5" y="9">*</text><text class="hs" x="567" y="9">*</text></g>
<g id="r-SDHC" transform="translate(0,598.95)"><rect x="455" width="44" height="10.9" fill="#f0f8f0"/><rect x="499" width="45" height="10.9" fill="#dcc4e0"/><rect x="544" width="46" height="10.9" fill="#d8c0dc"/><text class="rl" x="448" y="8">SDHC</text><text class="hs" x="477" y="9">*</text></g>
<g id="r-FH" transform="translate(0,609.8)"><rect x="455" width="44" height="10.85" fill="#d8b8dc"/><rect x="499" width="45" height="10.85" fill="#eee4f0"/><rect x="544" width="46" height="10.85" fill="#e0eedc"/><text class="rl" x="448" y="8">FH</text><text class="hs" x="477" y="9">*</text><text class="hs" x="521.5" y="9">*</text><text class="hs" x="567" y="9">*</text></g>

<rect x="455" y="262.6" width="135" height="173.6" fill="none" stroke="#555" stroke-width="0.8"/>
<rect x="455" y="436.2" width="135" height="184.45" fill="none" stroke="#555" stroke-width="0.8"/>
<path d="M590,262.6V620.65" stroke="#444" stroke-width="1.2"/>
<path d="M594,263V434M594,441V452" stroke="#555" stroke-width="0.8"/>
<rect x="455" y="623" width="136" height="10" fill="url(#cbar)"/>
<text class="bt" x="460" y="642" text-anchor="middle">-2</text>
<text class="bt" x="523" y="642" text-anchor="middle">0</text>
<text class="bt" x="585" y="642" text-anchor="middle">2</text>
</g>
</svg>
